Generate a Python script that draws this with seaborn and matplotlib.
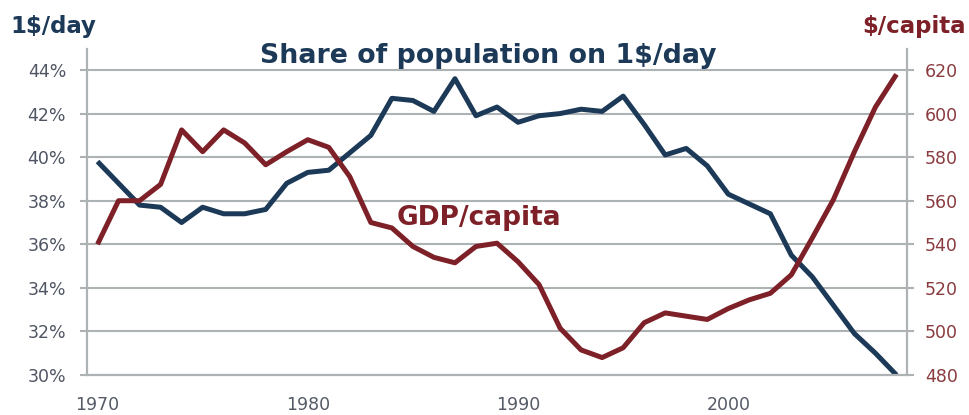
"""Share of population on 1$/day vs GDP/capita, two axes."""

import matplotlib.pyplot as plt
import pandas as pd
import seaborn as sns
from matplotlib.ticker import FuncFormatter, MultipleLocator

plt.switch_backend("Agg")

YEARS = list(range(1970, 2009))
SHARE_PCT = [
    39.8, 38.8, 37.8, 37.7, 37.0, 37.7, 37.4, 37.4, 37.6, 38.8,
    39.3, 39.4, 40.2, 41.0, 42.7, 42.6, 42.1, 43.6, 41.9, 42.3,
    41.6, 41.9, 42.0, 42.2, 42.1, 42.8, 41.5, 40.1, 40.4, 39.6,
    38.3, 37.85, 37.4, 35.5, 34.5, 33.2, 31.9, 31.0, 30.0,
]
GDP_PER_CAPITA = [
    540, 560, 560, 567.5, 592.5, 582.5, 592.5, 586.5, 576.5, 582.5,
    588, 584.5, 571, 550, 547.5, 539, 534, 531.5, 539, 540.5,
    532, 521.5, 501.5, 491.5, 488, 492.5, 504, 508.5, 507, 505.5,
    510.5, 514.5, 517.5, 526, 543, 560.5, 582.5, 603, 618,
]
SHARE_TICKS = [30, 32, 34, 36, 38, 40, 42, 44]
GDP_TICKS = [480, 500, 520, 540, 560, 580, 600, 620]
YEAR_LABELS = [1970, 1980, 1990, 2000]

NAVY = "#1c3a58"
MAROON = "#7d2027"
GRID = "#adb2b4"
FONT = ["DejaVu Sans"]

data = pd.DataFrame({"year": YEARS, "share": SHARE_PCT, "gdp": GDP_PER_CAPITA})

sns.set_style("white")
plt.rcParams["font.family"] = FONT

fig = plt.figure(figsize=(9.7, 4.15), dpi=100)
ax = fig.add_axes([87 / 970, 40 / 415, 820 / 970, 326 / 415])
ax2 = ax.twinx()

for a in (ax, ax2):
    a.spines["top"].set_visible(False)
    for side in ("left", "right", "bottom"):
        a.spines[side].set_color(GRID)
        a.spines[side].set_linewidth(1.5)

ax.set_axisbelow(True)
ax.grid(axis="y", color=GRID, linewidth=1.5)
ax.grid(axis="x", visible=False)

sns.lineplot(data=data, x="year", y="share", ax=ax, color=NAVY, linewidth=3.6,
             solid_capstyle="butt")
sns.lineplot(data=data, x="year", y="gdp", ax=ax2, color=MAROON, linewidth=3.6,
             solid_capstyle="butt")

ax.set_xlim(1969.5, 2008.5)
ax.set_ylim(30, 30 + 14 * 326 / 305)
ax2.set_ylim(480, 480 + 140 * 326 / 305)
ax.set_yticks(SHARE_TICKS)
ax2.set_yticks(GDP_TICKS)
ax.yaxis.set_major_formatter(FuncFormatter(lambda v, _: f"{v:.0f}%"))
ax.set_xticks(YEAR_LABELS)
ax.xaxis.set_minor_locator(MultipleLocator(1, offset=0.5))

ax.set_xlabel("")
ax.set_ylabel("")
ax2.set_ylabel("")

ax.tick_params(axis="x", which="major", length=0, labelsize=12.5,
               labelcolor="#555b66", pad=15)
ax.tick_params(axis="x", which="minor", length=5, width=1.5, color=GRID,
               direction="out")
ax.tick_params(axis="y", length=5, width=1.5, color=GRID, labelsize=12.5,
               labelcolor="#4f5563", pad=10)
ax2.tick_params(axis="y", length=5, width=1.5, color=GRID, labelsize=12.5,
                labelcolor="#8a3b3f", pad=8)

fig.text(10 / 970, 1 - 27 / 415, "1$/day", fontsize=16.5, fontweight="bold",
         color=NAVY, ha="left", va="center")
fig.text(966 / 970, 1 - 27 / 415, "$/capita", fontsize=16.5, fontweight="bold",
         color=MAROON, ha="right", va="center")
fig.text(488 / 970, 1 - 56 / 415, "Share of population on 1$/day", fontsize=19.3,
         fontweight="bold", color=NAVY, ha="center", va="center")
fig.text(397 / 970, 1 - 218 / 415, "GDP/capita", fontsize=19, fontweight="bold",
         color=MAROON, ha="left", va="center")

fig.savefig("out.png", dpi=100)
plt.close(fig)
